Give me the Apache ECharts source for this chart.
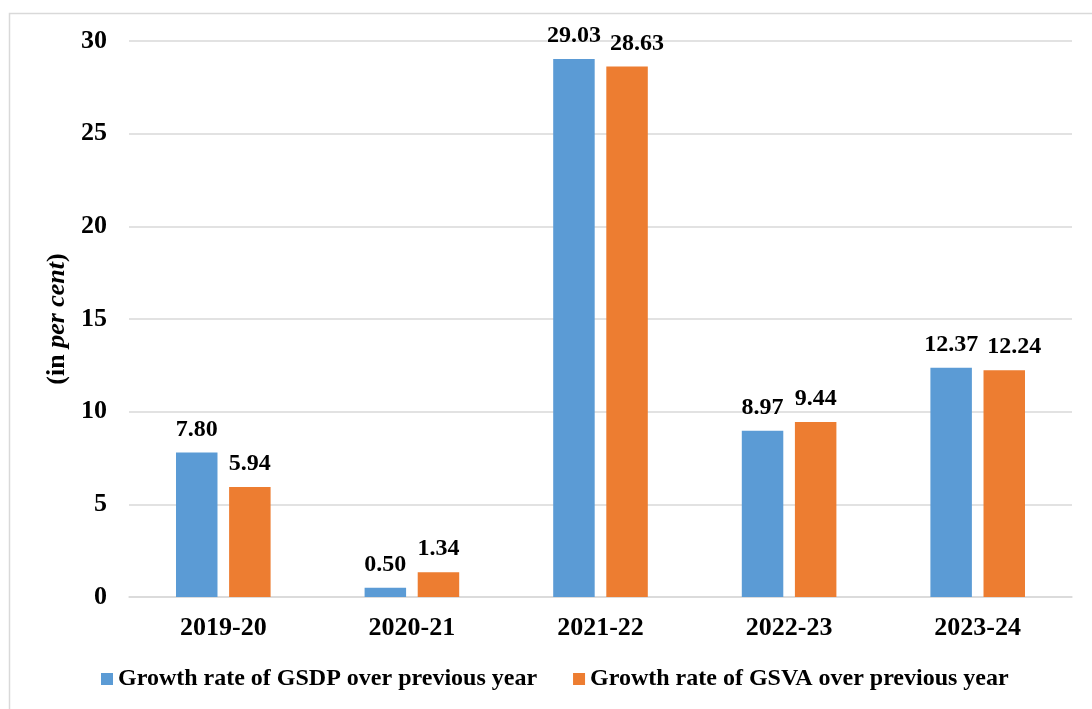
<!DOCTYPE html>
<html>
<head>
<meta charset="utf-8">
<script src="https://cdn.jsdelivr.net/npm/echarts@6/dist/echarts.min.js"></script>
<style>
  html, body { margin: 0; padding: 0; background: #fff; }
  #chart { width: 1092px; height: 709px; }
</style>
</head>
<body>
<div id="chart"></div>
<script>
// Growth rates by year, in per cent
const years = ['2019-20', '2020-21', '2021-22', '2022-23', '2023-24'];
const gsdpGrowth = [7.80, 0.50, 29.03, 8.97, 12.37];
const gsvaGrowth = [5.94, 1.34, 28.63, 9.44, 12.24];
const seriesNames = ['Growth rate of GSDP over previous year', 'Growth rate of GSVA over previous year'];

const FONT = '"Liberation Serif", "Times New Roman", serif';

const chart = echarts.init(document.getElementById('chart'), null, { renderer: 'canvas' });

const valueLabel = {
  show: true,
  position: 'top',
  distance: 11,
  fontFamily: FONT,
  fontWeight: 'bold',
  fontSize: 24,
  color: '#000',
  formatter: p => p.value.toFixed(2)
};

// Nudge a second-series label right when it sits just below its neighbour's label
const gsvaData = gsvaGrowth.map((v, i) => {
  const d = gsdpGrowth[i] - v;
  const crowded = d >= 0 && d < 1;
  return crowded ? { value: v, label: { offset: [10, 0] } } : v;
});

chart.setOption({
  backgroundColor: '#fff',
  animation: false,
  graphic: [{
    type: 'rect',
    left: 7,
    top: 11,
    shape: { width: 1200, height: 800 },
    style: { fill: 'none', stroke: '#d9d9d9', lineWidth: 1.5 },
    silent: true
  }],
  grid: { left: 129, right: 20, top: 41, bottom: 112 },
  legend: {
    bottom: 13,
    left: 96,
    itemWidth: 12,
    itemHeight: 12,
    itemGap: 36,
    icon: 'rect',
    textStyle: { fontFamily: FONT, fontWeight: 'bold', fontSize: 24, color: '#000' },
    data: seriesNames
  },
  xAxis: {
    type: 'category',
    data: years,
    axisLine: { lineStyle: { color: '#d9d9d9', width: 1.5 } },
    axisTick: { show: false },
    axisLabel: { fontFamily: FONT, fontWeight: 'bold', fontSize: 26, color: '#000', margin: 18 }
  },
  yAxis: {
    type: 'value',
    min: 0,
    max: 30,
    interval: 5,
    name: '{n|(in }{i|per cent}{n|)}',
    nameLocation: 'middle',
    nameGap: 58,
    nameTextStyle: {
      rich: {
        n: { fontFamily: FONT, fontWeight: 'bold', fontSize: 26, color: '#000' },
        i: { fontFamily: FONT, fontWeight: 'bold', fontStyle: 'italic', fontSize: 26, color: '#000' }
      }
    },
    axisLine: { show: false },
    axisTick: { show: false },
    splitLine: { lineStyle: { color: '#d9d9d9', width: 1.5 } },
    axisLabel: { fontFamily: FONT, fontWeight: 'bold', fontSize: 26, color: '#000', margin: 22 }
  },
  series: [
    {
      name: seriesNames[0],
      type: 'bar',
      data: gsdpGrowth,
      barWidth: '22%',
      barGap: '28%',
      itemStyle: { color: '#5b9bd5' },
      label: valueLabel
    },
    {
      name: seriesNames[1],
      type: 'bar',
      data: gsvaData,
      barWidth: '22%',
      barGap: '28%',
      itemStyle: { color: '#ed7d31' },
      label: valueLabel
    }
  ]
});
</script>
</body>
</html>
